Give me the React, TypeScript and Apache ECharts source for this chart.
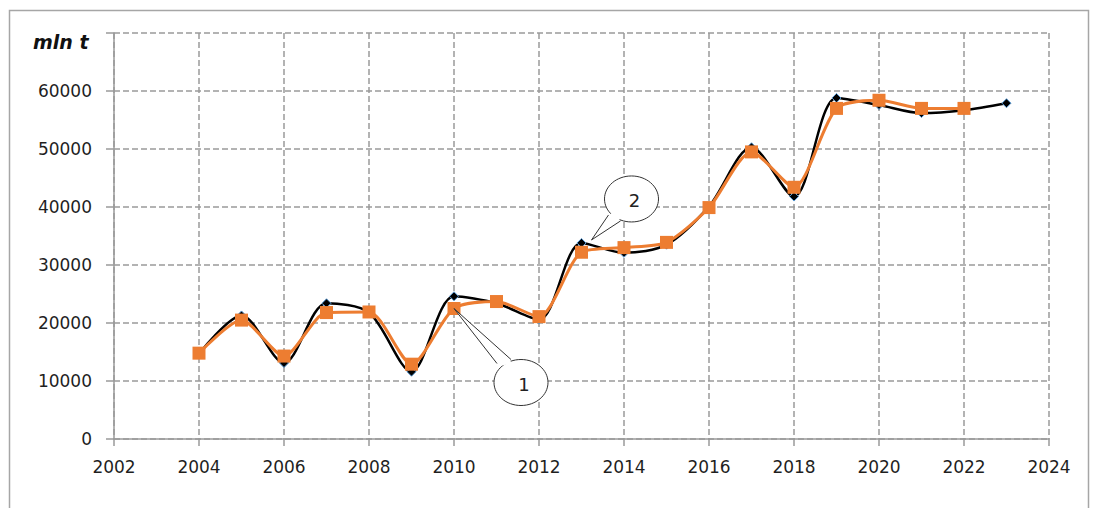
import React, { useEffect, useRef } from "react";
import * as echarts from "echarts";

const years = [2004, 2005, 2006, 2007, 2008, 2009, 2010, 2011, 2012, 2013, 2014, 2015, 2016, 2017, 2018, 2019, 2020, 2021, 2022, 2023];
const series1Values = [14700, 21300, 13100, 23400, 21800, 11600, 24600, 23400, 20600, 33800, 32100, 33500, 40100, 50300, 41800, 58800, 57600, 56200, 56700, 57900];
const series2Years = [2004, 2005, 2006, 2007, 2008, 2009, 2010, 2011, 2012, 2013, 2014, 2015, 2016, 2017, 2018, 2019, 2020, 2021, 2022];
const series2Values = [14800, 20500, 14300, 21800, 21900, 12900, 22500, 23700, 21100, 32200, 33000, 33900, 39900, 49500, 43400, 57000, 58400, 57000, 57000];
const yAxisTitle = "mln t";
const callout1 = { label: "1", year: 2010 };
const callout2 = { label: "2", year: 2013 };

const FONT = "DejaVu Sans";
const GRID_COLOR = "#9a9a9a";

function bubble(
  tip: number[],
  center: number[],
  a: number[],
  b: number[],
  text: string
) {
  const inset = (p: number[]) => {
    const dx = center[0] - p[0];
    const dy = center[1] - p[1];
    const d = Math.hypot(dx, dy) || 1;
    return [p[0] + (dx / d) * 4, p[1] + (dy / d) * 4];
  };
  return [
    {
      type: "ellipse",
      shape: { cx: center[0], cy: center[1], rx: 27, ry: 23 },
      style: { fill: "#fff", stroke: "#333", lineWidth: 1 },
      z: 100,
    },
    {
      type: "polygon",
      shape: { points: [tip, inset(a), inset(b)] },
      style: { fill: "#fff", stroke: null },
      z: 101,
    },
    {
      type: "polyline",
      shape: { points: [a, tip, b] },
      style: { fill: null, stroke: "#333", lineWidth: 1 },
      z: 102,
    },
    {
      type: "text",
      x: center[0] + 3,
      y: center[1] + 2,
      style: {
        text,
        fill: "#222",
        font: `18px '${FONT}'`,
        align: "center",
        verticalAlign: "middle",
      },
      z: 103,
    },
  ];
}

export default function App() {
  const ref = useRef<HTMLDivElement>(null);

  useEffect(() => {
    document.body.style.margin = "0";
    if (!ref.current) return;
    const chart = echarts.init(ref.current, null, { renderer: "svg" });

    const s1 = years.map((y, i) => [y, series1Values[i]]);
    const s2 = series2Years.map((y, i) => [y, series2Values[i]]);

    chart.setOption({
      animation: false,
      backgroundColor: "#fff",
      grid: { left: 114, right: 44, top: 33, bottom: 69 },
      xAxis: {
        type: "value",
        min: 2002,
        max: 2024,
        interval: 2,
        axisLine: { show: true, lineStyle: { color: GRID_COLOR, width: 1.5 } },
        axisTick: { show: true, length: 7, lineStyle: { color: GRID_COLOR, width: 1.5 } },
        axisLabel: {
          color: "#1f1f1f",
          fontSize: 17,
          fontFamily: FONT,
          margin: 19,
          formatter: (v: number) => String(v),
        },
        splitLine: {
          show: true,
          lineStyle: { color: GRID_COLOR, width: 1.5, type: [6, 3] },
        },
      },
      yAxis: {
        type: "value",
        min: 0,
        max: 70000,
        interval: 10000,
        axisLine: { show: true, lineStyle: { color: GRID_COLOR, width: 1.5 } },
        axisTick: { show: true, length: 8, lineStyle: { color: GRID_COLOR, width: 1.5 } },
        axisLabel: {
          color: "#1f1f1f",
          fontSize: 17,
          fontFamily: FONT,
          margin: 22,
          formatter: (v: number) => (v >= 70000 ? "" : String(v)),
        },
        splitLine: {
          show: true,
          lineStyle: { color: GRID_COLOR, width: 1.5, type: [6, 3] },
        },
      },
      series: [
        {
          name: "1",
          type: "line",
          data: s1,
          smooth: 0.3,
          symbol: "diamond",
          symbolSize: 9,
          lineStyle: { color: "#000", width: 2.5 },
          itemStyle: { color: "#000", borderColor: "#5b9bd5", borderWidth: 1 },
          z: 2,
        },
        {
          name: "2",
          type: "line",
          data: s2,
          smooth: 0.25,
          symbol: "rect",
          symbolSize: 13,
          lineStyle: { color: "#ED7D31", width: 3 },
          itemStyle: { color: "#ED7D31" },
          z: 3,
        },
      ],
    });

    const i1 = series2Years.indexOf(callout1.year);
    const t1 = chart.convertToPixel({ gridIndex: 0 }, [callout1.year, series2Values[i1]]) as number[];
    const i2 = years.indexOf(callout2.year);
    const p2 = chart.convertToPixel({ gridIndex: 0 }, [callout2.year, series1Values[i2]]) as number[];
    const t2 = [p2[0] + 10, p2[1] - 3];

    const g1 = bubble(
      t1,
      [t1[0] + 67, t1[1] + 74],
      [t1[0] + 43, t1[1] + 55],
      [t1[0] + 57, t1[1] + 51],
      callout1.label
    );
    const g2 = bubble(
      t2,
      [t2[0] + 40, t2[1] - 41],
      [t2[0] + 17, t2[1] - 25],
      [t2[0] + 29, t2[1] - 19],
      callout2.label
    );

    chart.setOption({
      graphic: [
        {
          type: "rect",
          shape: { x: 9.5, y: 10.5, width: 1079, height: 510 },
          style: { fill: null, stroke: "#a6a6a6", lineWidth: 1.5 },
          silent: true,
          z: 0,
        },
        {
          type: "text",
          x: 33,
          y: 42,
          style: {
            text: yAxisTitle,
            fill: "#111",
            font: `italic bold 19px '${FONT}'`,
            align: "left",
            verticalAlign: "middle",
          },
        },
        ...g1,
        ...g2,
      ],
    });

    return () => chart.dispose();
  }, []);

  return <div ref={ref} style={{ width: 1093, height: 508 }} />;
}
